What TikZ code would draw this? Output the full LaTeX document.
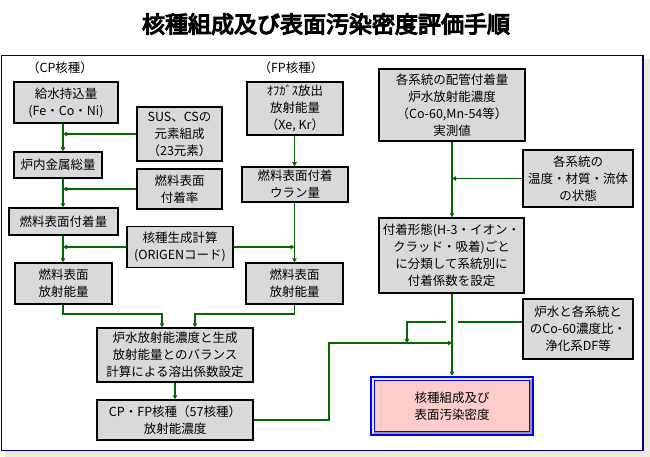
\documentclass[tikz,border=0pt]{standalone}
\usepackage{fontspec}
\setmainfont{Noto Sans CJK JP}
\newfontfamily\titlefont[FakeBold=5]{Noto Sans CJK JP}
\usetikzlibrary{arrows.meta,calc}
\definecolor{boxgray}{RGB}{217,217,217}
\definecolor{lineG}{RGB}{0,104,0}
\definecolor{frameN}{RGB}{0,0,128}
\definecolor{paper}{RGB}{236,233,226}
\definecolor{goalP}{RGB}{255,204,204}

\begin{document}
\begin{tikzpicture}[x=1pt, y=-1pt, font=\fontsize{12.5}{17}\selectfont,
  >={Triangle[length=4pt,width=4.5pt]},
  box/.style={rectangle, draw=black, fill=boxgray, line width=1.5pt, align=center, inner sep=0pt},
  link/.style={draw=lineG, line width=1.6pt},
  thinlink/.style={draw=lineG, line width=1pt},
  spine/.style={draw=lineG, line width=2.4pt},
  goal/.style={rectangle, draw=blue, fill=goalP, line width=2.6pt, align=center,
               minimum width=162pt, minimum height=58pt}]
  \useasboundingbox (0,0) rectangle (650,457);
  \fill[paper] (5,59) rectangle (650,457);
  \draw[frameN, fill=white, line width=1.5pt] (1.5,55.5) rectangle (643,450.5);
  \node[font=\titlefont\fontsize{23}{23}\selectfont] (title) at (326,24) {核種組成及び表面汚染密度評価手順};

  % CP column
  \node (cplabel) at (60,68) {（CP核種）};
  \node[box, minimum width=104pt, minimum height=41pt] (kyusui) at (66,102.5) {給水持込量\\(Fe・Co・Ni)};
  \node[box, minimum width=85pt, minimum height=54pt] (sus) at (179.5,134) {SUS、CSの\\元素組成\\（23元素）};
  \node[box, minimum width=88pt, minimum height=26pt] (ronai) at (58,165) {炉内金属総量};
  \node[box, minimum width=85pt, minimum height=40pt] (ritsu) at (179.5,189) {燃料表面\\付着率};
  \node[box, minimum width=109pt, minimum height=27pt] (fusoku) at (63.5,221.5) {燃料表面付着量};
  \node[box, minimum width=106pt, minimum height=41pt] (origen) at (180,247) {核種生成計算\\(ORIGENコード)};
  \node[box, minimum width=97pt, minimum height=41pt] (cphosha) at (63.5,283.5) {燃料表面\\放射能量};

  % FP column
  \node (fplabel) at (291,68) {（FP核種）};
  \node[box, minimum width=96pt, minimum height=53pt] (offgas) at (295,108.5) {ｵﾌｶﾞｽ放出\\放射能量\\（Xe, Kr）};
  \node[box, minimum width=106pt, minimum height=35pt] (uran) at (295,184.5) {燃料表面付着\\ウラン量};
  \node[box, minimum width=97pt, minimum height=41pt] (fphosha) at (294.5,283.5) {燃料表面\\放射能量};

  \node[box, minimum width=156pt, minimum height=54pt] (balance) at (175,355)
    {炉水放射能濃度と生成\\放射能量とのバランス\\計算による溶出係数設定};
  \node[box, minimum width=156pt, minimum height=40pt] (cpfp) at (175,420) {CP・FP核種（57核種）\\放射能濃度};

  % measured side
  \node[box, minimum width=146pt, minimum height=72pt] (haikan) at (452,105)
    {各系統の配管付着量\\炉水放射能濃度\\（Co-60,Mn-54等）\\実測値};
  \node[box, minimum width=110pt, minimum height=57pt] (ondo) at (578,178.5) {各系統の\\温度・材質・流体\\の状態};
  \node[box, minimum width=145pt, minimum height=75pt] (keitai) at (451.5,255.5)
    {付着形態(H-3・イオン・\\クラッド・吸着)ごと\\に分類して系統別に\\付着係数を設定};
  \node[box, minimum width=110pt, minimum height=60pt] (rosui) at (578,329) {炉水と各系統と\\のCo-60濃度比・\\浄化系DF等};
  \node[goal] (goal) at (452,406) {核種組成及び\\表面汚染密度};
  \draw[line width=2pt, black!40] ([shift={(3.6pt,3.6pt)}]goal.south west) -| ([shift={(-3.6pt,-3.6pt)}]goal.north east);
  \draw[line width=2pt, black!10] ([shift={(3.6pt,3.6pt)}]goal.south west) |- ([shift={(-3.6pt,-3.6pt)}]goal.north east);
  \draw[blue, line width=0.8pt] ([shift={(5pt,-5pt)}]goal.north west) rectangle ([shift={(-5pt,5pt)}]goal.south east);

  \coordinate (cpx) at (63,0);
  \coordinate (fpx) at (294.5,0);
  \coordinate (hop) at (407,343);
  \coordinate (merge) at (452,343);

  \draw[link,->] (kyusui.south -| cpx) -- (ronai.north -| cpx);
  \draw[link,->] (sus.west) -- (sus.west -| cpx);
  \draw[link,->] (ronai.south -| cpx) -- (fusoku.north -| cpx);
  \draw[link,->] (ritsu.west) -- (ritsu.west -| cpx);
  \draw[link,->] (fusoku.south -| cpx) -- (cphosha.north -| cpx);
  \draw[link,->] (origen.west) -- (origen.west -| cpx);
  \draw[link,->] (origen.east) -- (origen.east -| fpx);
  \draw[thinlink,->] (offgas.south -| fpx) -- (uran.north -| fpx);
  \draw[thinlink,->] (uran.south -| fpx) -- (fphosha.north -| fpx);
  \draw[link,->] (cphosha.south -| cpx) -- ++(0,9) -| ([xshift=-13pt]balance.north);
  \draw[link,->] (fphosha.south -| fpx) -- ++(0,9) -| ([xshift=20pt]balance.north);
  \draw[link,->] (balance) -- (cpfp);

  \draw[spine,->] (haikan.south -| merge) -- (keitai.north -| merge);
  \draw[thinlink,->] (ondo.west) -- (ondo.west -| merge);
  \draw[link,->] ([yshift=7pt]rosui.west) -| (hop);
  \draw[spine,->, preaction={draw=white, line width=12pt, -}] (keitai.south -| merge) -- (goal.north -| merge);
  \draw[link,->] (cpfp.east) -- ++(75,0) |- (merge);
\end{tikzpicture}
\end{document}
